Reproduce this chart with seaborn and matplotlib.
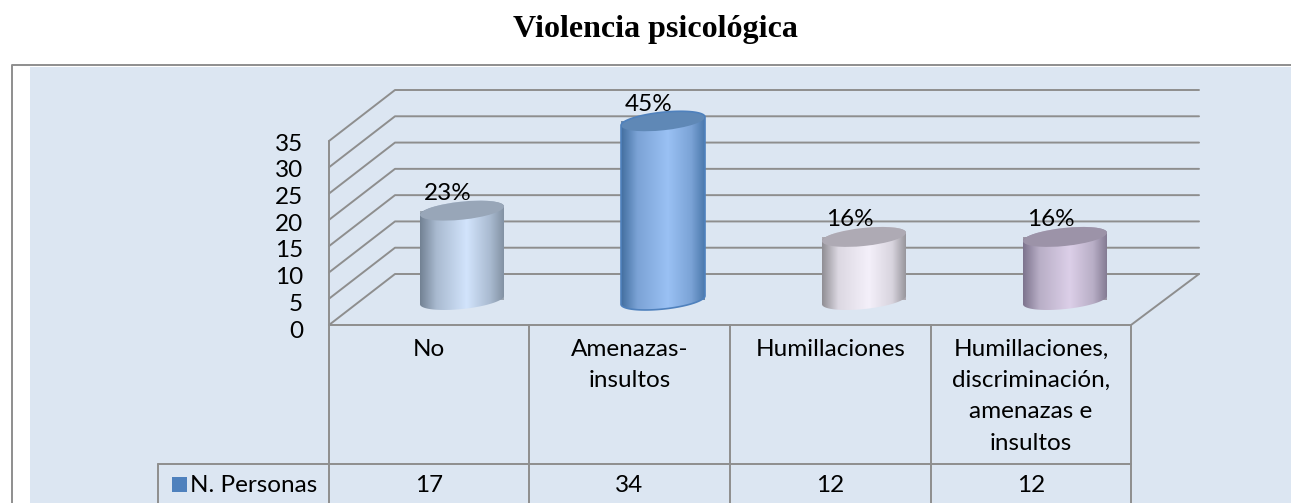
import matplotlib
matplotlib.use('Agg')
import matplotlib.pyplot as plt
from matplotlib.colors import LinearSegmentedColormap
from matplotlib.patches import Ellipse, Polygon, Rectangle
import numpy as np
import pandas as pd
import seaborn as sns

categorias = ['No', 'Amenazas-\ninsultos', 'Humillaciones',
              'Humillaciones,\ndiscriminación,\namenazas e\ninsultos']
personas = [17, 34, 12, 12]
porcentajes = ['23%', '45%', '16%', '16%']
ticks_y = [0, 5, 10, 15, 20, 25, 30, 35]

# edge, mid, highlight, mid, edge for each cylinder, then the top colour
degradados = [['#6f7e90', '#a9bad0', '#d2e4fc', '#a9bad0', '#7d8b9d'],
              ['#3f6b9c', '#7ba3d6', '#9ac1f4', '#7ba3d6', '#4472a6'],
              ['#8b898f', '#dcd8e2', '#f4f0fa', '#d8d4de', '#8f8d93'],
              ['#79708a', '#b8aec6', '#dccfe8', '#b8aec6', '#7d748c']]
tapas = ['#98a6b8', '#5f88b6', '#aeaab4', '#9c93a8']

W, H = 1291, 503
GRIS = '#8e8e8e'
FONDO = '#dce6f2'
ESCALA = 184 / 35   # pixels per unit in the 3D plot
LETRA = 17.5

sns.set_theme(style='white')
plt.rcParams['font.family'] = ['Lato', 'DejaVu Sans']

fig = plt.figure(figsize=(W / 100, H / 100), dpi=100, facecolor='white')


def capa_pixeles(orden):
    capa = fig.add_axes([0, 0, 1, 1], zorder=orden)
    capa.set_xlim(0, W)
    capa.set_ylim(H, 0)
    capa.set_autoscale_on(False)
    capa.axis('off')
    return capa


fondo = capa_pixeles(0)
frente = capa_pixeles(2)

# panel and outer frame
fondo.add_patch(Rectangle((30, 67), W - 30, H - 67, fc=FONDO, ec='none'))
fondo.plot([12, 12, W], [H, 65, 65], color=GRIS, lw=1.4)

# walls of the 3D box
for v in ticks_y:
    y_frente = 325 - v * ESCALA
    y_fondo = 274 - v * ESCALA
    fondo.plot([329, 395, 1199], [y_frente, y_fondo, y_fondo], color=GRIS, lw=1.4)
fondo.plot([329, 329], [325 - 35 * ESCALA, 325], color=GRIS, lw=1.4)
fondo.plot([329, 1131, 1199], [325, 325, 274], color=GRIS, lw=1.4)

# y labels
for v in ticks_y:
    fondo.text(303, 331 - v * 5.34, str(v), ha='right', va='center', fontsize=LETRA, color='black')

# data table under the chart
bordes_x = [329, 529, 730, 931, 1131]
for x in bordes_x:
    fondo.plot([x, x], [325, H], color=GRIS, lw=1.4)
fondo.plot([158, 158], [464, H], color=GRIS, lw=1.4)
fondo.plot([158, 1131], [464, 464], color=GRIS, lw=1.4)
fondo.add_patch(Rectangle((172, 477), 15, 15, fc='#4f81bd', ec='none'))
fondo.text(190, 485, 'N. Personas', ha='left', va='center', fontsize=LETRA, color='black')
for i, cat in enumerate(categorias):
    centro = (bordes_x[i] + bordes_x[i + 1]) / 2
    fondo.text(centro, 339, cat, ha='center', va='top', fontsize=LETRA, color='black', linespacing=1.6)
    fondo.text(centro, 485, str(personas[i]), ha='center', va='center', fontsize=LETRA, color='black')

# bars
df = pd.DataFrame({'categoria': categorias, 'personas': personas})
ax = fig.add_axes([361.5 / W, (H - 300) / H, 804 / W, ESCALA * 35 / H], zorder=1)
sns.barplot(data=df, x='categoria', y='personas', hue='categoria', palette=tapas,
            width=0.42, legend=False, linewidth=0, ax=ax)
ax.set_xlim(-0.5, 3.5)
ax.set_ylim(0, 35)
ax.axis('off')
fig.canvas.draw()


def elipse_puntos(cx, cy, a, b, angulo):
    t = np.linspace(0, 2 * np.pi, 240, endpoint=False)
    r = np.radians(angulo)
    xs = cx + a * np.cos(t) * np.cos(r) - b * np.sin(t) * np.sin(r)
    ys = cy + a * np.cos(t) * np.sin(r) + b * np.sin(t) * np.cos(r)
    return np.column_stack([xs, ys])


ANGULO = -6
for i, barra in enumerate(ax.patches):
    # bar corners, from the bar axes to figure pixels
    (x0, y0), (x1, y1) = ax.transData.transform([(barra.get_x(), 0),
                                                 (barra.get_x() + barra.get_width(), barra.get_height())])
    y_base, y_tapa = H - y0, H - y1
    cx = (x0 + x1) / 2
    a = (x1 - x0) / 2
    b = 9

    # outline of the cylinder side: lower arc of the base + upper arc of the top
    base = elipse_puntos(cx, y_base, a, b, ANGULO)
    tapa = elipse_puntos(cx, y_tapa, a, b, ANGULO)
    izq, der = np.argmin(base[:, 0]), np.argmax(base[:, 0])
    arco_bajo = base[np.arange(der, izq + 1 if izq > der else izq + 241) % 240]
    arco_alto = tapa[np.arange(izq, der + 1 if der > izq else der + 241) % 240]
    contorno = Polygon(np.vstack([arco_bajo, arco_alto]), closed=True, transform=frente.transData,
                       fc='none', ec='none')
    frente.add_patch(contorno)

    cmap = LinearSegmentedColormap.from_list('cil', list(zip([0, 0.2, 0.55, 0.82, 1], degradados[i])))
    img = frente.imshow(np.linspace(0, 1, 256)[None, :], extent=(x0 - 1, x1 + 1, y_base + b + 8, y_tapa - b - 8),
                        aspect='auto', cmap=cmap, zorder=3)
    img.set_clip_path(contorno)

    frente.add_patch(Ellipse((cx, y_tapa), 2 * a, 2 * b, angle=ANGULO, fc=tapas[i], ec='none', zorder=4))
    if i == 1:
        contorno.set(ec='#4f81bd', lw=1.2, zorder=5)

    frente.annotate(porcentajes[i], (cx, y_tapa), xytext=(-14 * 0.72, 17 * 0.72), textcoords='offset points',
                    ha='center', va='center', fontsize=LETRA, color='black', zorder=6)

frente.set_xlim(0, W)
frente.set_ylim(H, 0)

fig.text(655 / W, 1 - 30 / H, 'Violencia psicológica', ha='center', va='center', fontsize=23,
         fontweight='bold', family='Liberation Serif', color='black')

fig.savefig('out.png', dpi=100)
